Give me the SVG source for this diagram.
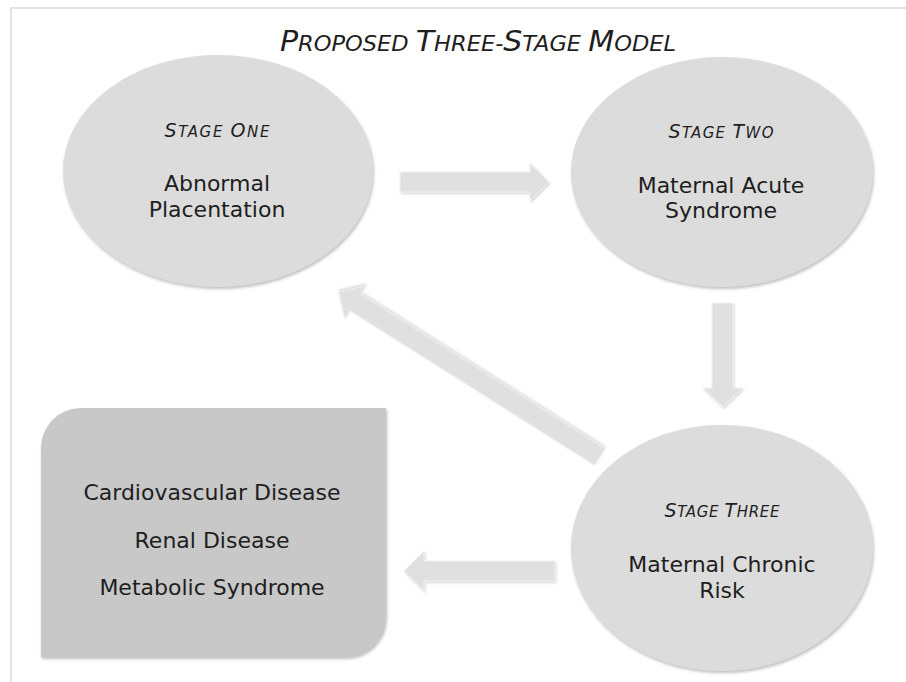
<svg xmlns="http://www.w3.org/2000/svg" width="906" height="682" viewBox="0 0 906 682">
  <style>
    .stage { fill: #dcdcdc; filter: url(#shadow); }
    .box { fill: #c8c8c8; filter: url(#shadow); }
    .arrow { fill: #e0e0e0; stroke: #f2f2f2; stroke-width: 1; filter: url(#ashadow); }
    .body { font-family: "DejaVu Sans", "Liberation Sans", sans-serif; font-size: 22px; fill: #1e1e1e; text-anchor: middle; }
    .label { font-family: "DejaVu Sans", "Liberation Sans", sans-serif; font-style: italic; fill: #1e1e1e; text-anchor: middle; }
    .big { font-size: 19px; }
    .small { font-size: 15px; }
    .frame { stroke: #e4e4e4; stroke-width: 2; fill: none; }
  </style>
  <defs>
    <filter id="shadow" x="-10%" y="-10%" width="120%" height="125%">
      <feDropShadow dx="1" dy="2" stdDeviation="1.5" flood-color="#8a8a8a" flood-opacity="0.55"/>
    </filter>
    <filter id="ashadow" x="-10%" y="-20%" width="120%" height="150%">
      <feDropShadow dx="1" dy="1.5" stdDeviation="1.2" flood-color="#9a9a9a" flood-opacity="0.4"/>
    </filter>
  </defs>
  <rect x="0" y="0" width="906" height="682" fill="#ffffff"/>
  <path class="frame" d="M11,682 V8 H906"/>

  <g id="title">
    <text x="478" y="51" font-family="DejaVu Sans, Liberation Sans, sans-serif" font-style="italic" fill="#1e1e1e" text-anchor="middle" textLength="396" lengthAdjust="spacingAndGlyphs"><tspan font-size="28">P</tspan><tspan font-size="21">ROPOSED </tspan><tspan font-size="28">T</tspan><tspan font-size="21">HREE-</tspan><tspan font-size="28">S</tspan><tspan font-size="21">TAGE </tspan><tspan font-size="28">M</tspan><tspan font-size="21">ODEL</tspan></text>
  </g>

  <g id="connectors">
    <polygon class="arrow" points="400,172 530,172 530,163 549,182 530,201 530,192 400,192"/>
    <polygon class="arrow" points="712,303 733,303 733,388 743,388 723,407 703,388 712,388"/>
    <polygon class="arrow" transform="translate(600,457) rotate(212.3)" points="0,-10 289,-10 289,-20 309,0 289,20 289,10 0,10"/>
    <polygon class="arrow" points="555,561 424,561 424,551 404,571 424,591 424,581 555,581"/>
  </g>

  <g id="stage-one">
    <ellipse class="stage" cx="218" cy="171" rx="155" ry="116"/>
    <text class="label" x="217" y="137" textLength="105"><tspan class="big">S</tspan><tspan class="small">TAGE </tspan><tspan class="big">O</tspan><tspan class="small">NE</tspan></text>
    <text class="body" x="217" y="191">Abnormal</text>
    <text class="body" x="217" y="217">Placentation</text>
  </g>

  <g id="stage-two">
    <ellipse class="stage" cx="722" cy="172" rx="151" ry="115"/>
    <text class="label" x="721" y="138" textLength="105"><tspan class="big">S</tspan><tspan class="small">TAGE </tspan><tspan class="big">T</tspan><tspan class="small">WO</tspan></text>
    <text class="body" x="721" y="193">Maternal Acute</text>
    <text class="body" x="721" y="218">Syndrome</text>
  </g>

  <g id="stage-three">
    <ellipse class="stage" cx="722" cy="548" rx="151" ry="123"/>
    <text class="label" x="722" y="517" textLength="115"><tspan class="big">S</tspan><tspan class="small">TAGE </tspan><tspan class="big">T</tspan><tspan class="small">HREE</tspan></text>
    <text class="body" x="722" y="572">Maternal Chronic</text>
    <text class="body" x="722" y="598">Risk</text>
  </g>

  <g id="outcomes">
    <path class="box" d="M80,408 H386 V617 A40,40 0 0 1 346,657 H41 V448 A40,40 0 0 1 80,408 Z"/>
    <text class="body" x="212" y="500">Cardiovascular Disease</text>
    <text class="body" x="212" y="548">Renal Disease</text>
    <text class="body" x="212" y="595">Metabolic Syndrome</text>
  </g>
</svg>
